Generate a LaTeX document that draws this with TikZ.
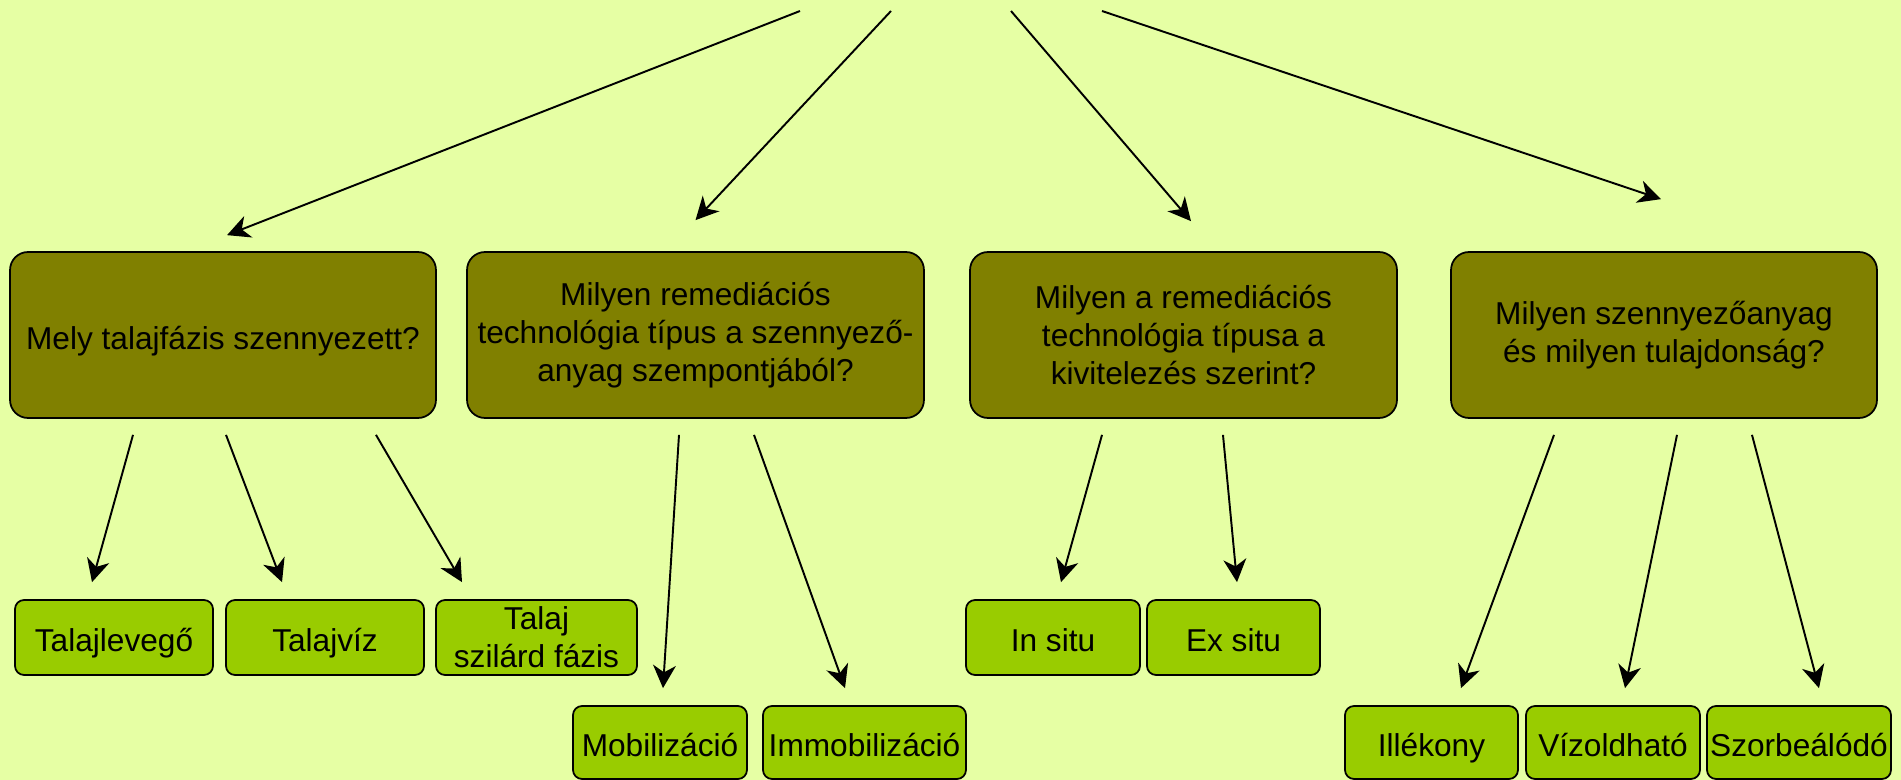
\documentclass[tikz,border=0pt]{standalone}
\usepackage{fontspec}
\setmainfont{Liberation Sans}
\usepackage{tikz}
\usetikzlibrary{arrows.meta, positioning}

\definecolor{bgyellow}{HTML}{E6FFA4}
\definecolor{qolive}{HTML}{808000}
\definecolor{agreen}{HTML}{99CC00}

\tikzset{
    qbox/.style={draw, line width=1pt, fill=qolive, rounded corners=0.36cm, align=center,
        minimum height=3.32cm, inner sep=0pt, font=\fontsize{18}{21.5}\selectfont},
    abox/.style={draw, line width=1pt, fill=agreen, rounded corners=0.18cm, align=center,
        inner sep=0pt, font=\fontsize{18}{21.5}\selectfont},
    oneline/.style={text height=16pt, text depth=0pt},
    arr/.style={-{Stealth[length=13pt, width=13pt, inset=4pt]}, line width=1.1pt}
}

\begin{document}
\begin{tikzpicture}[x=0.02cm, y=-0.02cm]
    \fill[bgyellow] (0,0) rectangle (1901,780);
    \useasboundingbox (0,0) rectangle (1901,780);

    % question boxes
    \node[qbox, oneline, minimum width=8.52cm] (q1) at (223,335) {Mely talajfázis szennyezett?};
    \node[qbox, minimum width=9.14cm] (q2) at (695.5,335) {Milyen remediációs\\technológia típus a szennyező-\\anyag szempontjából?};
    \node[qbox, minimum width=8.54cm] (q3) at (1183.5,335) {Milyen a remediációs\\technológia típusa a\\kivitelezés szerint?};
    \node[qbox, minimum width=8.52cm] (q4) at (1664,335) {Milyen szennyezőanyag\\és milyen tulajdonság?};

    % answer boxes
    \node[abox, oneline, minimum width=3.96cm, minimum height=1.5cm] (a1) at (114,637.5) {Talajlevegő};
    \node[abox, oneline, minimum width=3.96cm, minimum height=1.5cm] (a2) at (325,637.5) {Talajvíz};
    \node[abox, minimum width=4.02cm, minimum height=1.5cm] (a3) at (536.5,637.5) {Talaj\\szilárd fázis};
    \node[abox, oneline, minimum width=3.48cm, minimum height=1.46cm] (b1) at (660,742.5) {Mobilizáció};
    \node[abox, oneline, minimum width=4.06cm, minimum height=1.46cm] (b2) at (864.5,742.5) {Immobilizáció};
    \node[abox, oneline, minimum width=3.48cm, minimum height=1.5cm] (c1) at (1053,637.5) {In situ};
    \node[abox, oneline, minimum width=3.46cm, minimum height=1.5cm] (c2) at (1233.5,637.5) {Ex situ};
    \node[abox, oneline, minimum width=3.46cm, minimum height=1.46cm] (d1) at (1431.5,742.5) {Illékony};
    \node[abox, oneline, minimum width=3.48cm, minimum height=1.46cm] (d2) at (1613,742.5) {Vízoldható};
    \node[abox, oneline, minimum width=3.68cm, minimum height=1.46cm] (d3) at (1799,742.5) {Szorbeálódó};

    % top arrows
    \coordinate (s1) at (800,11);
    \coordinate (s2) at (891,11);
    \coordinate (s3) at (1011,11);
    \coordinate (s4) at (1102,11);
    \draw[arr] (s1) -- ([xshift=0.08cm, yshift=0.32cm]q1.north);
    \draw[arr] (s2) -- ([yshift=0.62cm]q2.north);
    \draw[arr] (s3) -- ([xshift=0.15cm, yshift=0.6cm]q3.north);
    \draw[arr] (s4) -- ([xshift=-0.06cm, yshift=1.04cm]q4.north);

    % question -> answers
    \draw[arr] ([xshift=-1.8cm, yshift=-0.32cm]q1.south) -- ([xshift=-0.44cm, yshift=0.34cm]a1.north);
    \draw[arr] ([xshift=0.06cm, yshift=-0.32cm]q1.south) -- ([xshift=-0.86cm, yshift=0.34cm]a2.north);
    \draw[arr] ([xshift=3.06cm, yshift=-0.32cm]q1.south) -- ([xshift=-1.49cm, yshift=0.34cm]a3.north);

    \draw[arr] ([xshift=-0.33cm, yshift=-0.32cm]q2.south) -- ([xshift=0.06cm, yshift=0.34cm]b1.north);
    \draw[arr] ([xshift=1.17cm, yshift=-0.32cm]q2.south) -- ([xshift=-0.39cm, yshift=0.34cm]b2.north);

    \draw[arr] ([xshift=-1.63cm, yshift=-0.32cm]q3.south) -- ([xshift=0.16cm, yshift=0.34cm]c1.north);
    \draw[arr] ([xshift=0.79cm, yshift=-0.32cm]q3.south) -- ([xshift=0.07cm, yshift=0.34cm]c2.north);

    \draw[arr] ([xshift=-2.2cm, yshift=-0.32cm]q4.south) -- ([xshift=0.59cm, yshift=0.34cm]d1.north);
    \draw[arr] ([xshift=0.26cm, yshift=-0.32cm]q4.south) -- ([xshift=0.24cm, yshift=0.34cm]d2.north);
    \draw[arr] ([xshift=1.76cm, yshift=-0.32cm]q4.south) -- ([xshift=0.4cm, yshift=0.34cm]d3.north);
\end{tikzpicture}
\end{document}
